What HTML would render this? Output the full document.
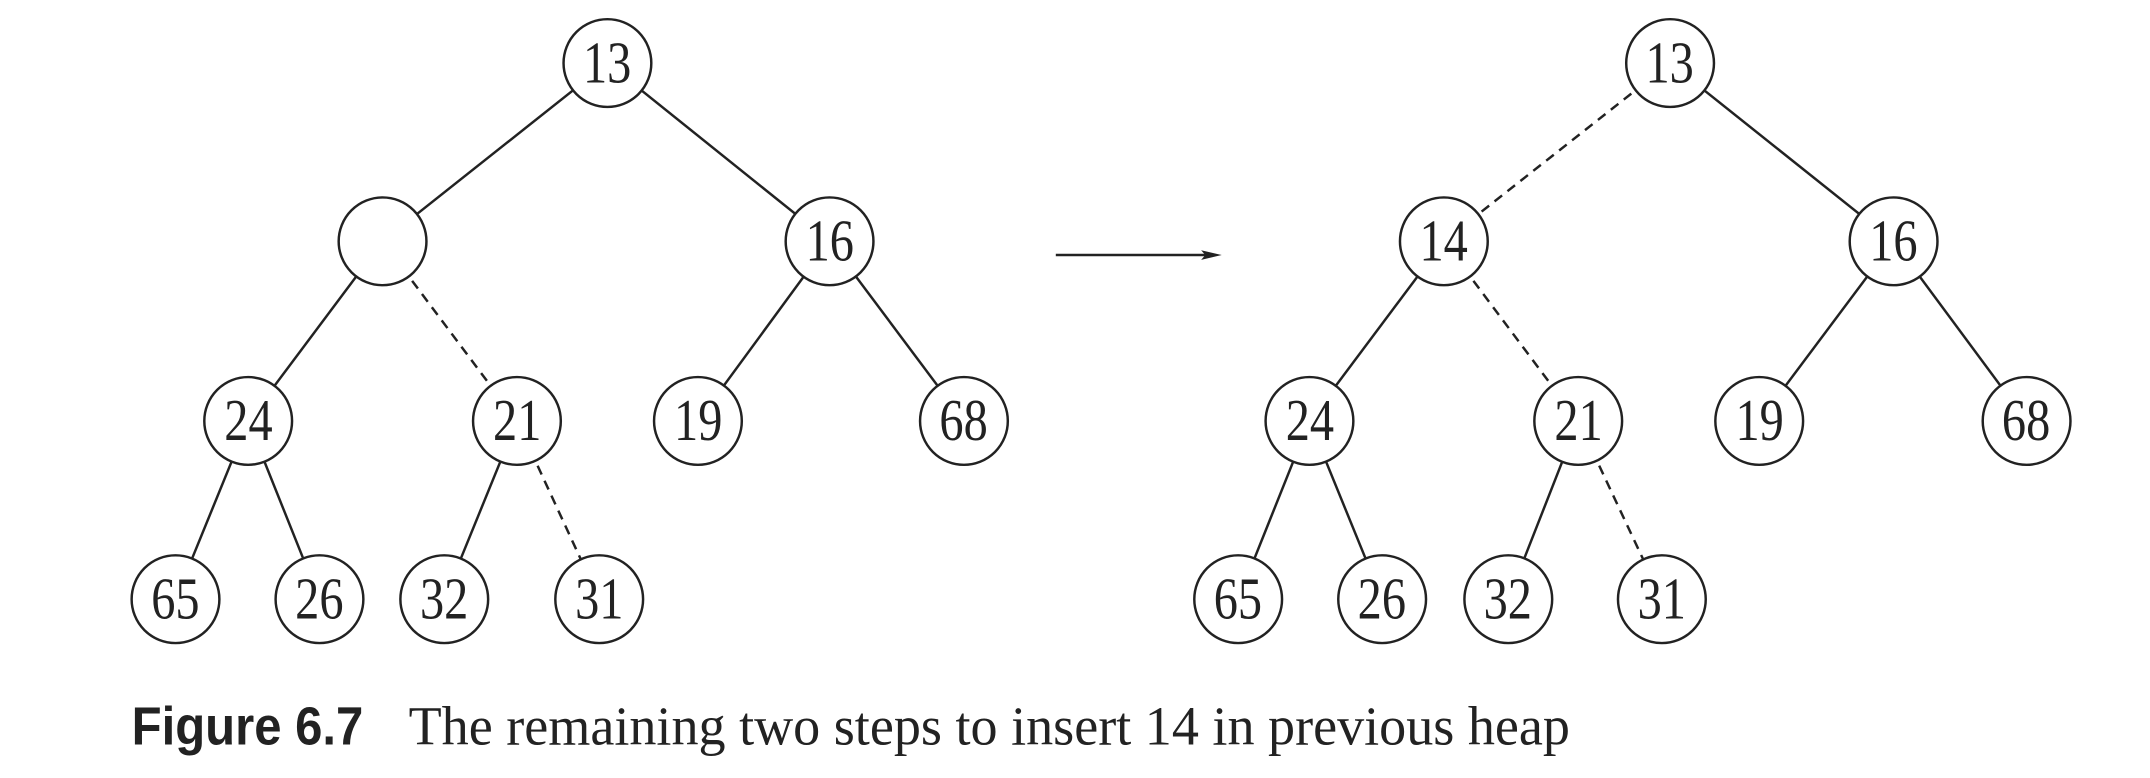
<!DOCTYPE html>
<html><head><meta charset="utf-8"><style>html,body{margin:0;padding:0;background:#fff}svg{display:block}</style></head>
<body>
<svg width="2150" height="778" viewBox="0 0 1568 567.4" preserveAspectRatio="none" xmlns="http://www.w3.org/2000/svg">
<g stroke="#222" stroke-width="1.8" fill="none">
<line x1="443" y1="46" x2="279" y2="176"/>
<line x1="443" y1="46" x2="605" y2="176"/>
<line x1="279" y1="176" x2="181" y2="307"/>
<line x1="279" y1="176" x2="377" y2="307" stroke-dasharray="7,5"/>
<line x1="605" y1="176" x2="509" y2="307"/>
<line x1="605" y1="176" x2="703" y2="307"/>
<line x1="181" y1="307" x2="128" y2="437"/>
<line x1="181" y1="307" x2="233" y2="437"/>
<line x1="377" y1="307" x2="324" y2="437"/>
<line x1="377" y1="307" x2="437" y2="437" stroke-dasharray="7,5"/>
<line x1="1218" y1="46" x2="1053" y2="176" stroke-dasharray="7,5"/>
<line x1="1218" y1="46" x2="1381" y2="176"/>
<line x1="1053" y1="176" x2="955" y2="307"/>
<line x1="1053" y1="176" x2="1151" y2="307" stroke-dasharray="7,5"/>
<line x1="1381" y1="176" x2="1283" y2="307"/>
<line x1="1381" y1="176" x2="1478" y2="307"/>
<line x1="955" y1="307" x2="903" y2="437"/>
<line x1="955" y1="307" x2="1008" y2="437"/>
<line x1="1151" y1="307" x2="1100" y2="437"/>
<line x1="1151" y1="307" x2="1212" y2="437" stroke-dasharray="7,5"/>
<line x1="770" y1="186" x2="886" y2="186"/>
</g>
<polygon points="891,186 876,182.5 879,186 876,189.5" fill="#222"/>
<g stroke="#222" stroke-width="1.8" fill="#fff">
<circle cx="443" cy="46" r="32"/><circle cx="279" cy="176" r="32"/><circle cx="605" cy="176" r="32"/>
<circle cx="181" cy="307" r="32"/><circle cx="377" cy="307" r="32"/><circle cx="509" cy="307" r="32"/><circle cx="703" cy="307" r="32"/>
<circle cx="128" cy="437" r="32"/><circle cx="233" cy="437" r="32"/><circle cx="324" cy="437" r="32"/><circle cx="437" cy="437" r="32"/>
<circle cx="1218" cy="46" r="32"/><circle cx="1053" cy="176" r="32"/><circle cx="1381" cy="176" r="32"/>
<circle cx="955" cy="307" r="32"/><circle cx="1151" cy="307" r="32"/><circle cx="1283" cy="307" r="32"/><circle cx="1478" cy="307" r="32"/>
<circle cx="903" cy="437" r="32"/><circle cx="1008" cy="437" r="32"/><circle cx="1100" cy="437" r="32"/><circle cx="1212" cy="437" r="32"/>
</g>
<g font-family="Liberation Serif, serif" font-size="43" fill="#222" text-anchor="middle" transform="scale(0.82,1)">
<text x="540" y="60">13</text><text x="738" y="190">16</text>
<text x="221" y="321">24</text><text x="460" y="321">21</text><text x="621" y="321">19</text><text x="857" y="321">68</text>
<text x="156" y="451">65</text><text x="284" y="451">26</text><text x="395" y="451">32</text><text x="533" y="451">31</text>
<text x="1485" y="60">13</text><text x="1284" y="190">14</text><text x="1684" y="190">16</text>
<text x="1165" y="321">24</text><text x="1404" y="321">21</text><text x="1565" y="321">19</text><text x="1802" y="321">68</text>
<text x="1101" y="451">65</text><text x="1229" y="451">26</text><text x="1341" y="451">32</text><text x="1478" y="451">31</text>
</g>
<text x="96" y="543" font-family="Liberation Sans, sans-serif" font-weight="bold" font-size="39" fill="#222" textLength="169" lengthAdjust="spacingAndGlyphs">Figure 6.7</text>
<text x="298" y="543" font-family="Liberation Serif, serif" font-size="40" fill="#222" textLength="847" lengthAdjust="spacingAndGlyphs">The remaining two steps to insert 14 in previous heap</text>
</svg>
</body></html>
